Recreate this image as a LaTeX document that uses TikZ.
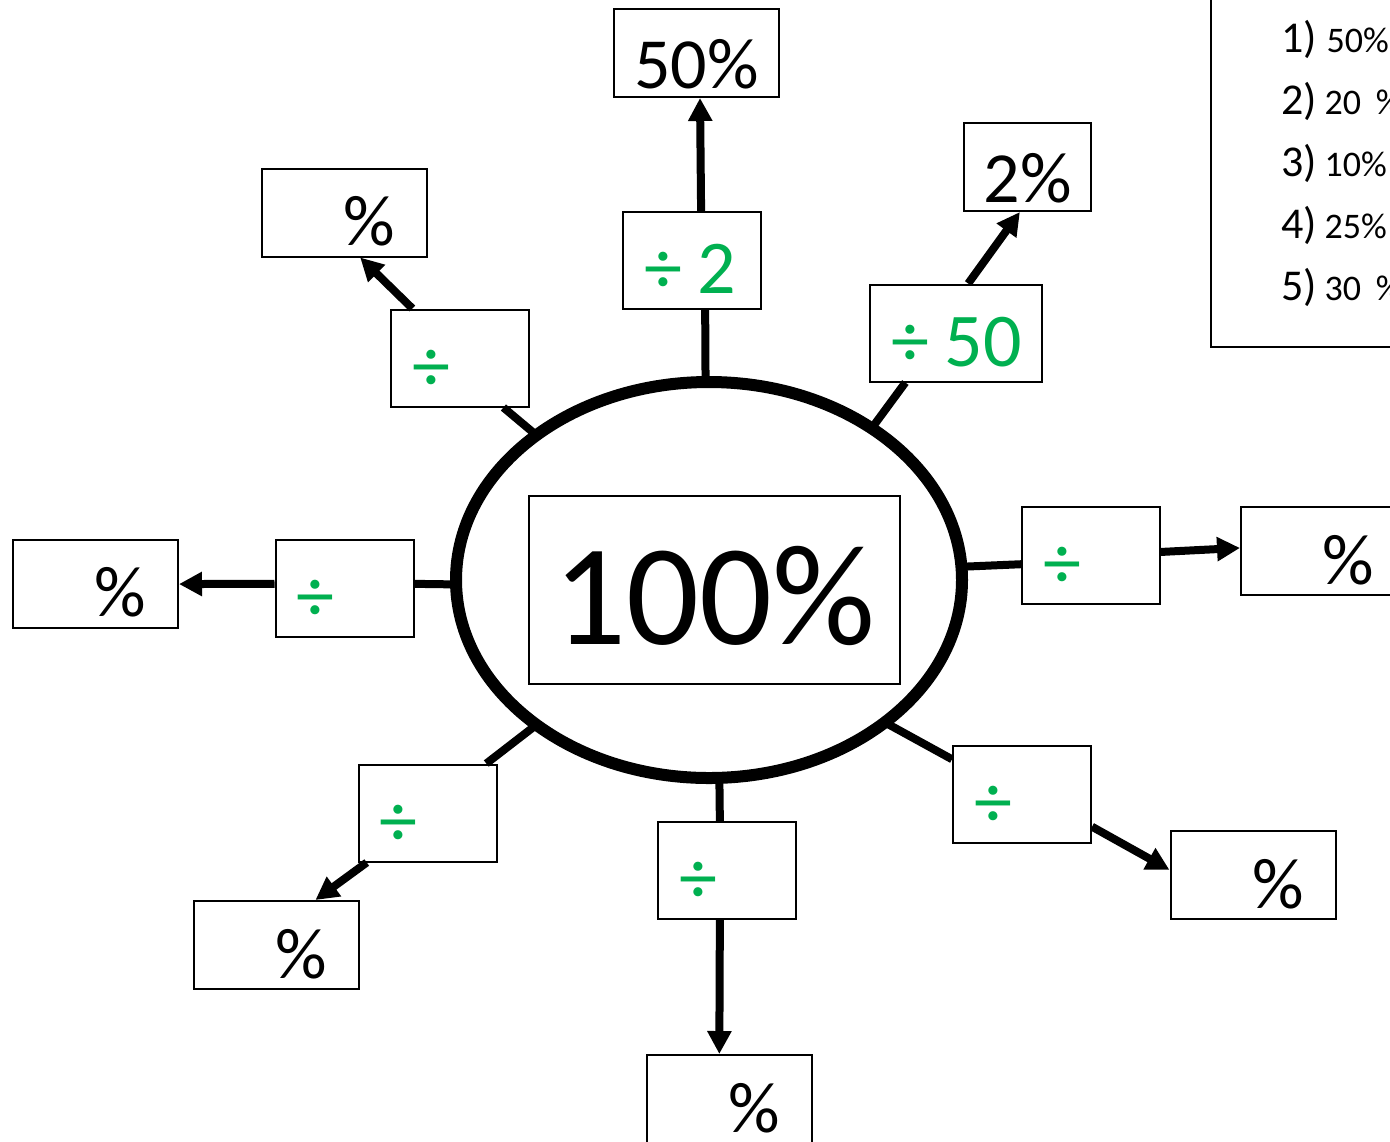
\documentclass[tikz,border=0pt]{standalone}
\usepackage{fontspec}
\setmainfont{Carlito}
\usetikzlibrary{shapes.geometric,arrows.meta,calc}
\definecolor{sgreen}{HTML}{00B050}
\begin{document}
\begin{tikzpicture}[x=0.5pt,y=-0.5pt,
  bx/.style={draw, line width=1pt, inner sep=0pt, fill=white},
  pct/.style={bx, minimum width=82.5pt, minimum height=44pt,
    font=\fontsize{36pt}{40pt}\selectfont, text width=50.5pt, align=right,
    text height=33.4pt, text depth=0pt},
  res/.style={bx, minimum height=44pt, font=\fontsize{36pt}{40pt}\selectfont,
    text height=35pt, text depth=0pt},
  dv/.style={bx, minimum width=69pt, minimum height=48.5pt,
    font=\fontsize{38pt}{42pt}\selectfont, text=sgreen, text width=48pt,
    align=left, text height=33pt, text depth=0pt},
  conn/.style={line width=4pt},
  arr/.style={line width=4pt, -{Triangle[length=11.5pt,width=11.5pt]}}
]
\useasboundingbox (0,0) rectangle (1390,1141);
\clip (0,0) rectangle (1390,1141);
\fill[white] (0,0) rectangle (1390,1141);

% centre
\node[ellipse, draw, line width=6pt, minimum width=253pt, minimum height=198pt,
  inner sep=0pt, outer sep=0pt] (e) at (709,580) {};
\node[bx, minimum width=185.5pt, minimum height=94pt,
  font=\fontsize{72pt}{80pt}\selectfont, text height=54.5pt, text depth=0pt]
  (c) at (714.5,590) {100\%};

% division boxes
\node[dv] (dT) at (692,260.5) {\mbox{÷\hspace{8pt}2}};
\node[dv, minimum width=86pt, text width=65pt] (dTR) at (956,333) {\mbox{÷\hspace{8pt}50}};
\node[dv] (dTL) at (460,358) {÷};
\node[dv] (dL) at (344.5,588) {÷};
\node[dv] (dR) at (1091,555.5) {÷};
\node[dv] (dBR) at (1022,794.5) {÷};
\node[dv] (dB) at (727,870.5) {÷};
\node[dv] (dBL) at (427.5,813) {÷};

% result boxes
\node[res, minimum width=82.5pt] (pT) at (696.5,53) {50\%};
\node[res, minimum width=63.5pt] (pTR) at (1027.5,167) {2\%};
\node[pct] (pTL) at (344.5,212.5) {\%};
\node[pct] (pL) at (95.5,583.5) {\%};
\node[pct] (pR) at (1323.5,551) {\%};
\node[pct] (pBR) at (1253,875) {\%};
\node[pct] (pB) at (729,1099) {\%};
\node[pct] (pBL) at (276.5,945) {\%};

% key
\node[bx, minimum width=110pt, minimum height=183.5pt, text width=40pt,
  inner xsep=35pt, inner ysep=0pt, align=left,
  font=\fontsize{22pt}{31pt}\selectfont] (key) at (1321,163.5)
  {\mbox{1)\hspace{5pt}{\fontsize{18pt}{31pt}\selectfont 50\%}}\\
   \mbox{2)\hspace{4pt}{\fontsize{18pt}{31pt}\selectfont 20 \%}}\\
   \mbox{3)\hspace{4pt}{\fontsize{18pt}{31pt}\selectfont 10\%}}\\
   \mbox{4)\hspace{4pt}{\fontsize{18pt}{31pt}\selectfont 25\%}}\\
   \mbox{5)\hspace{4pt}{\fontsize{18pt}{31pt}\selectfont 30 \%}}};

% connectors
\draw[conn] (e.91) -- ($(dT.south west)!0.594!(dT.south east)$);
\draw[arr] ($(dT.north west)!0.565!(dT.north east)$) -- ($(pT.south west)!0.521!(pT.south east)$);

\draw[conn] (e.43) -- ($(dTR.south west)!0.209!(dTR.south east)$);
\draw[arr] ($(dTR.north west)!0.57!(dTR.north east)$) -- ($(pTR.south west)!0.441!(pTR.south east)$);

\draw[conn] (e.140) -- ($(dTL.south west)!0.81!(dTL.south east)$);
\draw[arr] ($(dTL.north west)!0.16!(dTL.north east)$) -- ($(pTL.south west)!0.594!(pTL.south east)$);

\draw[conn] (e.181) -- ($(dL.north east)!0.458!(dL.south east)$);
\draw[arr] ($(dL.north west)!0.458!(dL.south west)$) -- ($(pL.north east)!0.506!(pL.south east)$);

\draw[conn] (e.3) -- ($(dR.north west)!0.588!(dR.south west)$);
\draw[arr] ($(dR.north east)!0.464!(dR.south east)$) -- ($(pR.north west)!0.466!(pR.south west)$);

\draw[conn] (e.-39) -- ($(dBR.north west)!0.144!(dBR.south west)$);
\draw[arr] ($(dBR.north east)!0.825!(dBR.south east)$) -- ($(pBR.north west)!0.443!(pBR.south west)$);

\draw[conn] (e.-87) -- ($(dB.north west)!0.449!(dB.north east)$);
\draw[arr] ($(dB.south west)!0.449!(dB.south east)$) -- ($(pB.north west)!0.442!(pB.north east)$);

\draw[conn] (e.-140) -- ($(dBL.north west)!0.92!(dBL.north east)$);
\draw[arr] ($(dBL.south west)!0.066!(dBL.south east)$) -- ($(pBL.north west)!0.733!(pBL.north east)$);
\end{tikzpicture}
\end{document}
